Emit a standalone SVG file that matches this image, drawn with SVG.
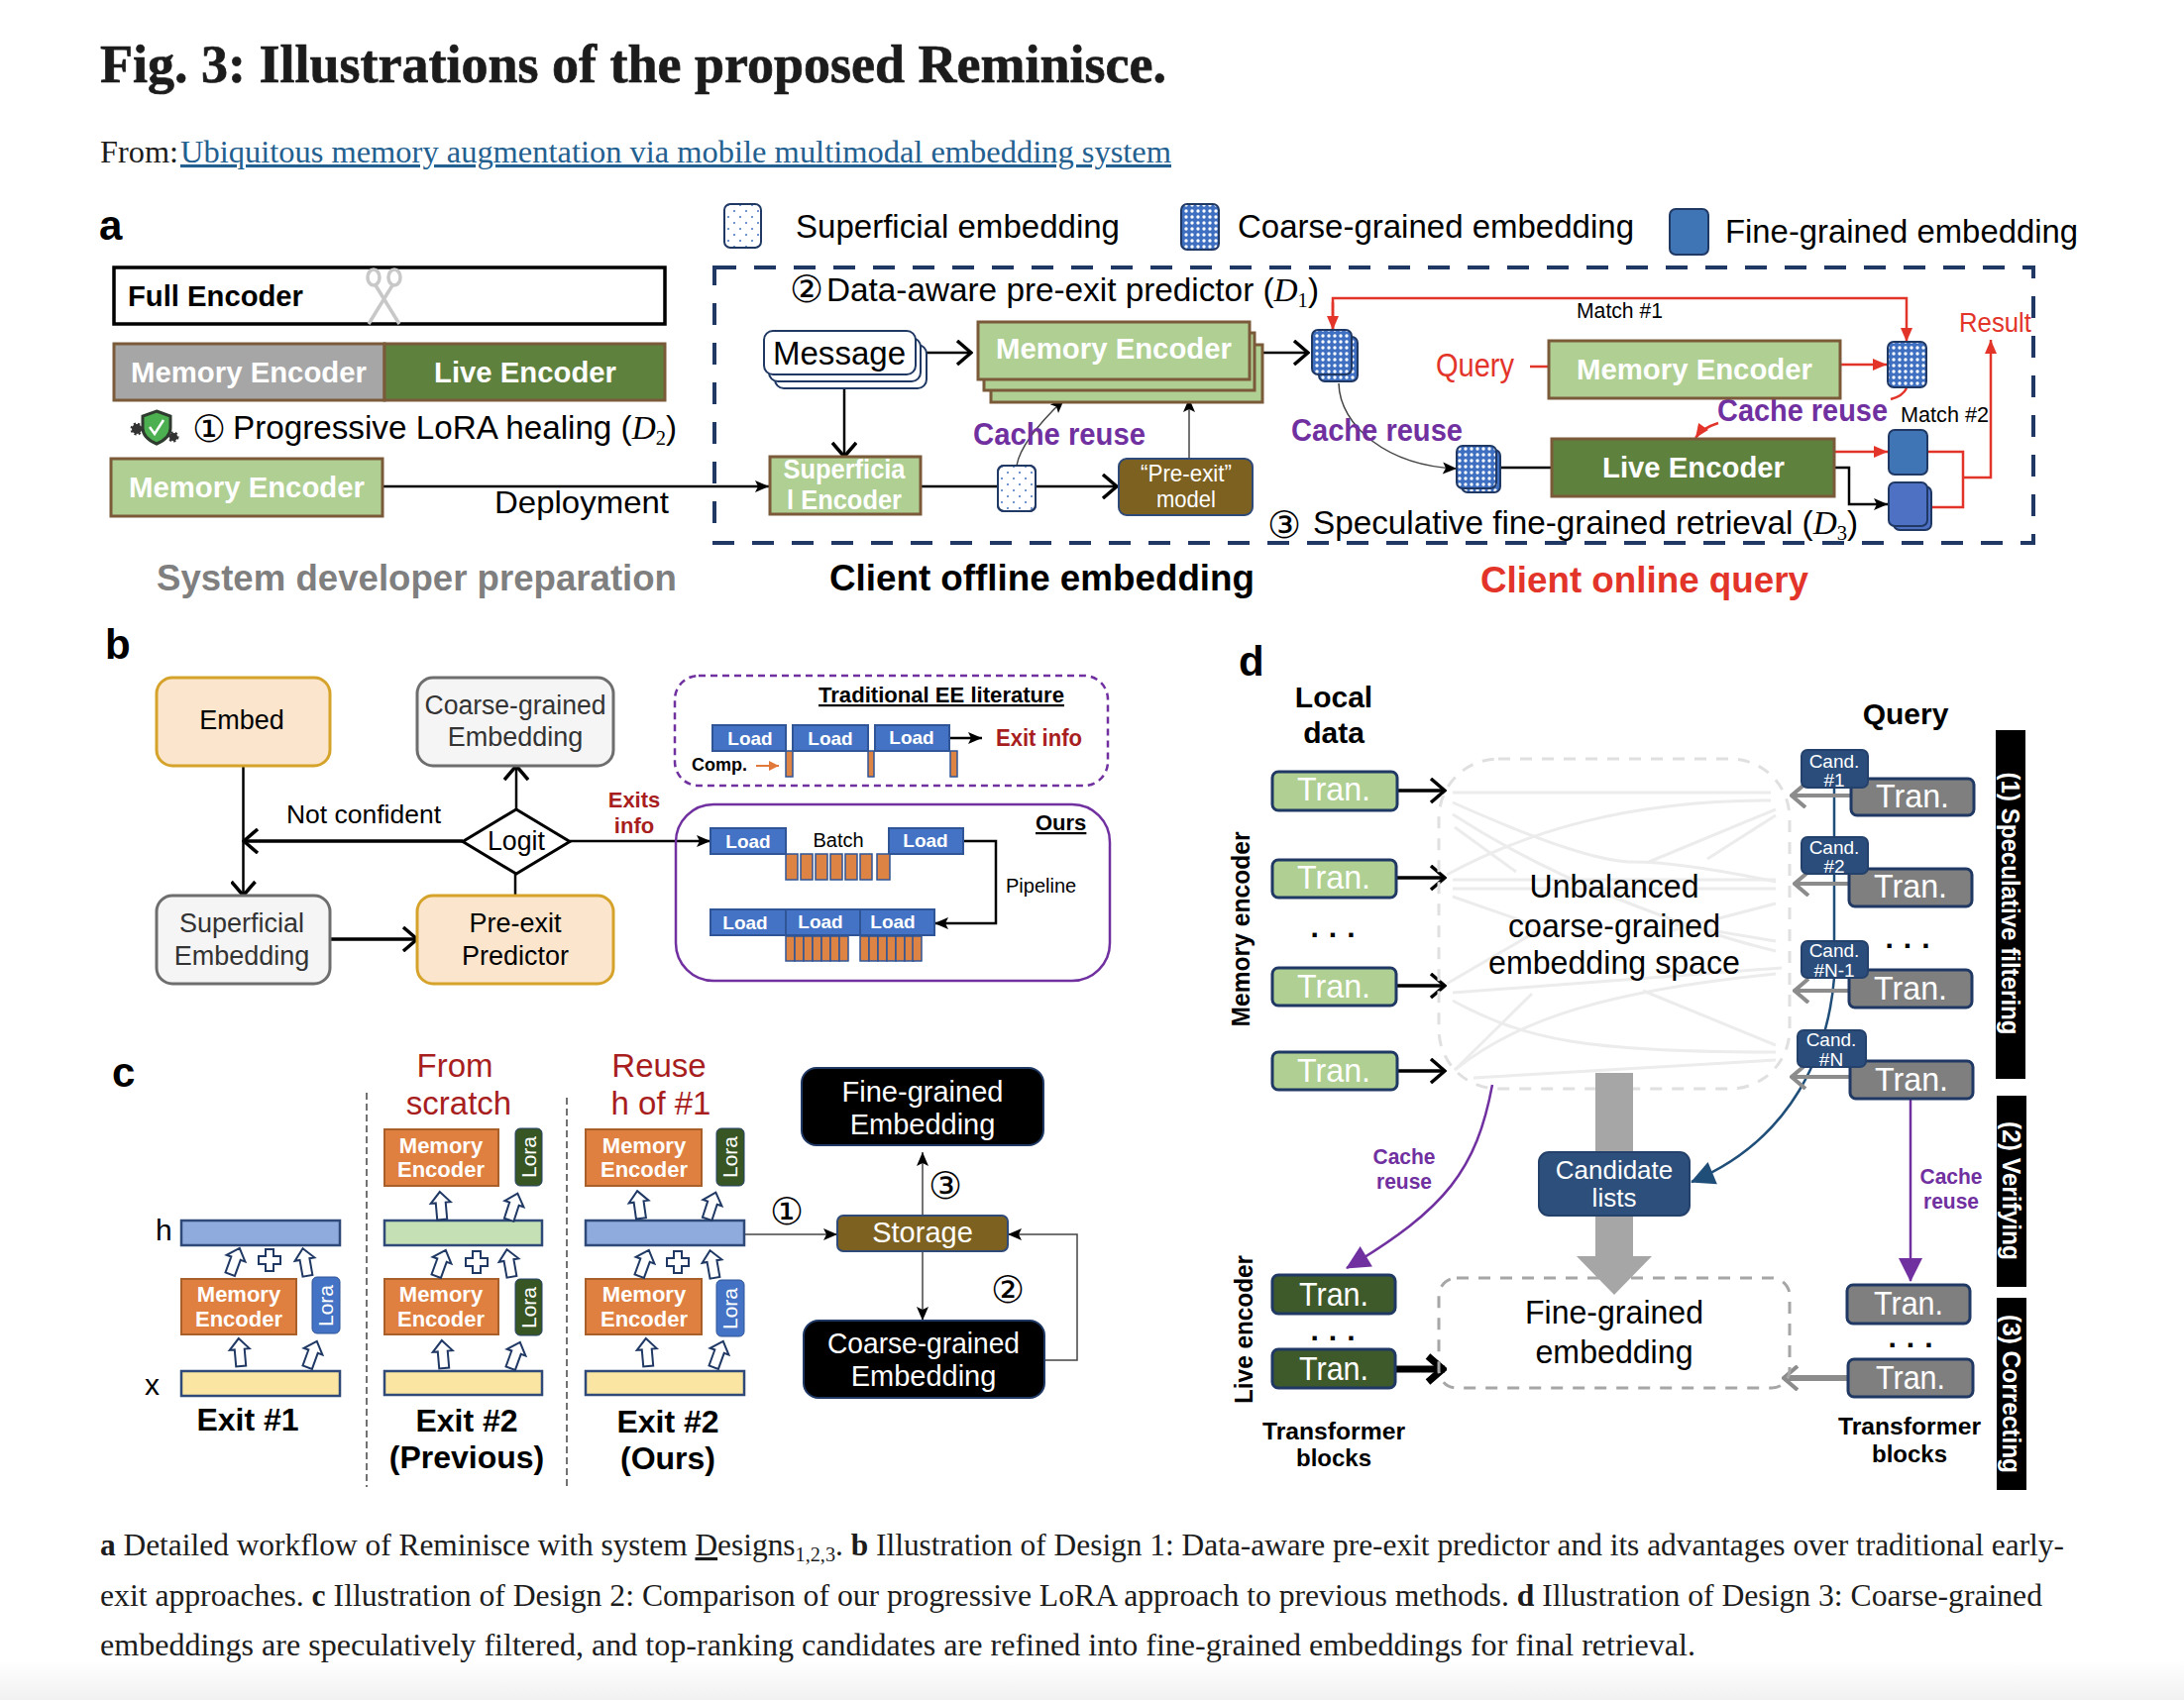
<svg xmlns="http://www.w3.org/2000/svg" width="2204" height="1716" viewBox="0 0 2204 1716">
<style>
text{font-family:"Liberation Sans",Arial,sans-serif;fill:#000}
.s{font-family:"Liberation Serif","Times New Roman",serif;fill:#1c1c1c}
.b{font-weight:700}
.w{fill:#fff}
.m{text-anchor:middle}
.circ{font-family:"DejaVu Sans",sans-serif;text-anchor:middle;font-size:38px}
.pur{fill:#7030a0;font-weight:700}
.red{fill:#e3342a}
.dred{fill:#a81e1e}
.lg{fill:#afcf93;stroke:#7b5a3a;stroke-width:3}
.dg{fill:#5f813e;stroke:#7b5a3a;stroke-width:3}
.wf{fill:none;stroke:#000;stroke-width:2.5}
.wf3{fill:none;stroke:#000;stroke-width:3.5}
.wf6{fill:none;stroke:#000;stroke-width:7}
.redl{fill:none;stroke:#e3342a;stroke-width:2.5}
.gl{fill:none;stroke:#8c8c8c;stroke-width:4}
.thin{fill:none;stroke:#444;stroke-width:1.5}
.load{fill:#4472c4;stroke:#2f5597;stroke-width:2}
.or{fill:#dd8344;stroke:#2f5597;stroke-width:1.5}
.nw{fill:#f5f5f5;stroke:#6e6e6e;stroke-width:3}
.nc{fill:#fbe5cd;stroke:#d6a32a;stroke-width:3}
.oe{fill:#e08040;stroke:#a85f2a;stroke-width:2}
.bar{stroke:#2f4a78;stroke-width:2.5}
.hol{fill:#fff;stroke:#1f3864;stroke-width:2}
.bk{fill:#000;stroke:#1f3864;stroke-width:2}
.lt{fill:#afcf93;stroke:#1f3864;stroke-width:3}
.gt{fill:#7f7f7f;stroke:#1f3864;stroke-width:3}
.dt{fill:#3f5a2a;stroke:#1f3864;stroke-width:3}
.cand{fill:#2a4d7c;stroke:#24416b;stroke-width:2}
.grid{fill:none;stroke:#ececec;stroke-width:3}
.tr{font-size:34px;fill:#fff;text-anchor:middle}
.cd{font-size:19px;fill:#fff;text-anchor:middle}
.emb{stroke:#1f3864;stroke-width:2}
.dots{font-size:30px;font-weight:700;text-anchor:middle;letter-spacing:10px}
</style>
<defs>
<linearGradient id="foot" x1="0" y1="0" x2="0" y2="1"><stop offset="0" stop-color="#fff"/><stop offset="1" stop-color="#f1f1f1"/></linearGradient>
<pattern id="pS" width="12" height="12" patternUnits="userSpaceOnUse"><circle cx="3" cy="3" r="1" fill="#4472c4"/><circle cx="9" cy="9" r="1" fill="#4472c4"/></pattern>
<pattern id="pC" width="6" height="6" patternUnits="userSpaceOnUse"><rect width="6" height="6" fill="#3f6fc0"/><circle cx="3" cy="3" r="1.700" fill="#fff"/></pattern>
<marker id="ak" markerUnits="userSpaceOnUse" markerWidth="16" markerHeight="16" refX="15" refY="8" orient="auto"><path d="M1,2 L15,8 L1,14 L4,8 Z" fill="#000"/></marker>
<marker id="ao" markerUnits="userSpaceOnUse" markerWidth="22" markerHeight="26" refX="20" refY="13" orient="auto"><path d="M6,1 L20,13 L6,25" fill="none" stroke="#000" stroke-width="3.500"/></marker>
<marker id="ao6" markerUnits="userSpaceOnUse" markerWidth="24" markerHeight="32" refX="22" refY="16" orient="auto"><path d="M5,3 L20,16 L5,29" fill="none" stroke="#000" stroke-width="7"/></marker>
<marker id="ag" markerUnits="userSpaceOnUse" markerWidth="22" markerHeight="26" refX="20" refY="13" orient="auto"><path d="M6,1 L20,13 L6,25" fill="none" stroke="#8c8c8c" stroke-width="4"/></marker>
<marker id="ar" markerUnits="userSpaceOnUse" markerWidth="16" markerHeight="16" refX="15" refY="8" orient="auto"><path d="M1,2 L15,8 L1,14 Z" fill="#e3342a"/></marker>
<marker id="ap" markerUnits="userSpaceOnUse" markerWidth="26" markerHeight="26" refX="24" refY="13" orient="auto"><path d="M1,1 L25,13 L1,25 Z" fill="#7030a0"/></marker>
<marker id="an" markerUnits="userSpaceOnUse" markerWidth="26" markerHeight="26" refX="24" refY="13" orient="auto"><path d="M1,1 L25,13 L1,25 Z" fill="#1f4e79"/></marker>
<marker id="aq" markerUnits="userSpaceOnUse" markerWidth="12" markerHeight="12" refX="11" refY="6" orient="auto"><path d="M1,1 L11,6 L1,11 Z" fill="#e0793a"/></marker>
<path id="ha" d="M0,-14 L10,-3 L5,-3 L5,14 L-5,14 L-5,-3 L-10,-3 Z" class="hol"/>
<path id="pl" d="M-4,-11 H4 V-4 H11 V4 H4 V11 H-4 V4 H-11 V-4 H-4 Z" class="hol"/>
</defs>
<rect width="2204" height="1716" fill="#fff"/>
<rect y="1676" width="2204" height="40" fill="url(#foot)"/>

<g id="header">
<text class="s b" x="101" y="83" font-size="55" textLength="1076" lengthAdjust="spacingAndGlyphs" style="stroke:#1c1c1c;stroke-width:.7">Fig. 3: Illustrations of the proposed Reminisce.</text>
<text class="s" x="101" y="164" font-size="31" textLength="79" lengthAdjust="spacingAndGlyphs">From:</text>
<text class="s" x="182" y="164" font-size="31" style="fill:#23608f;text-decoration:underline" textLength="1000" lengthAdjust="spacingAndGlyphs">Ubiquitous memory augmentation via mobile multimodal embedding system</text>
</g>

<g id="connectors">
<path d="M386,491 H776" class="wf" marker-end="url(#ak)"/>
<path d="M926,356 H980" class="wf" marker-end="url(#ao)"/>
<path d="M852,392 V461" class="wf" marker-end="url(#ao)"/>
<path d="M1274,356 H1320" class="wf" marker-end="url(#ao)"/>
<path d="M929,491 H1127" class="wf" marker-end="url(#ao)"/>
<path d="M1200,463 V402" class="thin" marker-end="url(#ak)"/>
<path d="M1026,470 Q1030,445 1074,403" class="thin" marker-end="url(#ak)"/>
<path d="M1345,333 V301 H1924 V345" class="redl" marker-end="url(#ar)"/>
<path d="M1345,305 V333" class="redl" marker-end="url(#ar)"/>
<path d="M1544,370 H1562" class="redl"/>
<path d="M1857,368 H1904" class="redl" marker-end="url(#ar)"/>
<path d="M1924,392 Q1920,400 1908,403" class="redl"/>
<path d="M1734,427 Q1718,432 1711,442" class="redl" marker-end="url(#ar)"/>
<path d="M1851,456 H1905" class="redl" marker-end="url(#ar)"/>
<path d="M1945,456 H1981 V512 H1949" class="redl"/>
<path d="M1981,482 H2009 V343" class="redl" marker-end="url(#ar)"/>
<path d="M1851,472 H1866 V509 H1905" class="wf" marker-end="url(#ak)"/>
<path d="M1512,472 H1566" class="wf"/>
<path d="M1351,387 C1352,430 1400,470 1470,473" class="thin" marker-end="url(#ak)"/>

<path d="M245.500,773 V904" class="wf" marker-end="url(#ao)"/>
<path d="M467,849 H246" class="wf3" marker-end="url(#ao)"/>
<path d="M333,948 H421" class="wf3" marker-end="url(#ao)"/>
<path d="M520,904 V882" class="wf"/>
<path d="M521,817 V773" class="wf" marker-end="url(#ao)"/>
<path d="M575,849 H717" class="wf" marker-end="url(#ak)"/>
<path d="M958,745 H991" class="wf" marker-end="url(#ak)"/>
<path d="M763,773 H786" fill="none" stroke="#e0793a" stroke-width="2" marker-end="url(#aq)"/>
<path d="M972,849 H1005 V932 H943" class="wf" marker-end="url(#ak)"/>

<path d="M751,1246 H845" class="thin" marker-end="url(#ak)"/>
<path d="M931,1227 V1163" class="thin" marker-end="url(#ak)"/>
<path d="M931,1263 V1333" class="thin" marker-end="url(#ak)"/>
<path d="M1054,1373 H1087 V1246 H1017" class="thin" marker-end="url(#ak)"/>
<path d="M370,1103 V1501 M572,1108 V1504" fill="none" stroke="#444" stroke-width="1.500" stroke-dasharray="7 4"/>

<g id="space-lines">
<path d="M1466,800 H1787" class="grid"/>
<path d="M1466,810 Q1600,870 1648,870 T1792,890" class="grid"/>
<path d="M1466,822 Q1540,870 1632,907 T1792,960" class="grid"/>
<path d="M1468,835 L1530,880" class="grid"/>
<path d="M1460,883 C1540,840 1640,808 1787,808" class="grid"/>
<path d="M1664,870 L1792,817 M1723,867 L1792,823" class="grid"/>
<path d="M1466,888 H1792 M1466,897 H1792" class="grid"/>
<path d="M1466,905 L1546,933 M1690,933 L1792,950 M1685,940 L1792,912" class="grid"/>
<path d="M1460,993 L1551,940" class="grid"/>
<path d="M1466,1002 L1798,977" class="grid"/>
<path d="M1466,1010 C1540,1050 1600,1062 1792,1062" class="grid"/>
<path d="M1658,1000 L1792,1055" class="grid"/>
<path d="M1468,1080 L1546,1003" class="grid"/>
<path d="M1468,1080 C1530,1030 1620,1000 1792,983" class="grid"/>
<path d="M1487,1088 L1792,1070" class="grid"/>
</g>
<path d="M1410,798 H1458" class="wf3" marker-end="url(#ao)"/>
<path d="M1410,886 H1458" class="wf3" marker-end="url(#ao)"/>
<path d="M1410,995 H1458" class="wf3" marker-end="url(#ao)"/>
<path d="M1410,1081 H1458" class="wf3" marker-end="url(#ao)"/>
<path d="M1408,1382 H1458" class="wf6" marker-end="url(#ao6)"/>
<path d="M1851,795 V987 C1845,1060 1810,1150 1707,1193" fill="none" stroke="#1f4e79" stroke-width="2.500" marker-end="url(#an)"/>
<path d="M1868,803 H1808" class="gl" marker-end="url(#ag)"/>
<path d="M1866,892 H1811" class="gl" marker-end="url(#ag)"/>
<path d="M1866,1000 H1811" class="gl" marker-end="url(#ag)"/>
<path d="M1867,1087 H1808" class="gl" marker-end="url(#ag)"/>
<path d="M1865,1391 H1800" class="gl" style="stroke-width:6" marker-end="url(#ag)"/>
<path d="M1506,1095 C1490,1180 1460,1220 1359,1280" fill="none" stroke="#7030a0" stroke-width="2.500" marker-end="url(#ap)"/>
<path d="M1928,1109 V1293" fill="none" stroke="#7030a0" stroke-width="2.500" marker-end="url(#ap)"/>
</g>

<g id="panel-a">
<text class="b" x="100" y="242" font-size="42">a</text>
<g id="legend-superficial"><rect x="731" y="206" width="37" height="44" rx="6" fill="url(#pS)" class="emb"/><text x="803" y="240" font-size="34" textLength="327" lengthAdjust="spacingAndGlyphs">Superficial embedding</text></g>
<g id="legend-coarse"><rect x="1192" y="206" width="38" height="46" rx="6" fill="url(#pC)" class="emb"/><text x="1249" y="240" font-size="34" textLength="400" lengthAdjust="spacingAndGlyphs">Coarse-grained embedding</text></g>
<g id="legend-fine"><rect x="1685" y="211" width="39" height="46" rx="6" fill="#3f74b5" class="emb"/><text x="1741" y="245" font-size="34" textLength="356" lengthAdjust="spacingAndGlyphs">Fine-grained embedding</text></g>

<g id="full-encoder"><rect x="115" y="270" width="556" height="57" fill="#fff" stroke="#000" stroke-width="3.500"/>
<text class="b" x="129" y="309" font-size="30" textLength="177" lengthAdjust="spacingAndGlyphs">Full Encoder</text>
<g fill="none" stroke="#c8c8c8" stroke-width="3.500"><ellipse cx="377" cy="280" rx="6" ry="8"/><ellipse cx="398" cy="280" rx="6" ry="8"/><path d="M379,288 L403,327 M396,288 L372,327"/></g></g>
<g id="split-encoder"><rect x="115" y="347" width="273" height="57" fill="#a6a6a6" stroke="#7b5a3a" stroke-width="3"/><rect x="388" y="347" width="283" height="57" class="dg"/>
<text class="b w" x="132" y="386" font-size="30" textLength="238" lengthAdjust="spacingAndGlyphs">Memory Encoder</text>
<text class="b w" x="438" y="386" font-size="30" textLength="184" lengthAdjust="spacingAndGlyphs">Live Encoder</text></g>
<g id="lora-healing">
<path d="M158,415 L172,420 V432 Q172,442 158,448 Q144,442 144,432 V420 Z" fill="#4caf50" stroke="#2f3b2f" stroke-width="3"/>
<path d="M151,431 L156,438 L165,424" fill="none" stroke="#fff" stroke-width="2.500"/>
<circle cx="138" cy="433" r="5" fill="#333" stroke="#333" stroke-width="3" stroke-dasharray="2 2"/>
<circle cx="175" cy="441" r="4" fill="#333" stroke="#333" stroke-width="3" stroke-dasharray="2 2"/>
<text class="circ" x="211" y="446">①</text>
<text x="235" y="443" font-size="34" textLength="448" lengthAdjust="spacingAndGlyphs">Progressive LoRA healing (<tspan class="s" font-style="italic" style="fill:#000">D</tspan><tspan class="s" font-size="21" dy="6" style="fill:#000">2</tspan><tspan dy="-6">)</tspan></text></g>
<g id="memory-encoder-dev"><rect x="112" y="463" width="274" height="58" class="lg"/><text class="b w" x="130" y="502" font-size="30" textLength="238" lengthAdjust="spacingAndGlyphs">Memory Encoder</text></g>
<text x="499" y="518" font-size="32" textLength="176" lengthAdjust="spacingAndGlyphs">Deployment</text>
<rect id="client-box" x="721" y="270" width="1331" height="278" fill="none" stroke="#1f3864" stroke-width="4" stroke-dasharray="22 18"/>
<text class="circ" x="814" y="305">②</text>
<text x="834" y="304" font-size="34" textLength="497" lengthAdjust="spacingAndGlyphs">Data-aware pre-exit predictor (<tspan class="s" font-style="italic" style="fill:#000">D</tspan><tspan class="s" font-size="21" dy="6" style="fill:#000">1</tspan><tspan dy="-6">)</tspan></text>
<g id="message"><g fill="#fff" stroke="#1f3864" stroke-width="2"><rect x="782" y="348" width="153" height="44" rx="9"/><rect x="776" y="341" width="153" height="44" rx="9"/><rect x="771" y="334" width="153" height="44" rx="9"/></g>
<text x="780" y="368" font-size="34" textLength="134" lengthAdjust="spacingAndGlyphs">Message</text></g>
<g id="memory-encoder-offline"><rect x="1000" y="348" width="274" height="58" class="lg"/><rect x="993" y="336" width="273" height="58" class="lg"/><rect x="987" y="325" width="274" height="58" class="lg"/>
<text class="b w" x="1005" y="362" font-size="30" textLength="238" lengthAdjust="spacingAndGlyphs">Memory Encoder</text></g>
<g id="coarse-stack-a"><rect x="1331" y="340" width="39" height="45" rx="6" fill="url(#pC)" class="emb"/><rect x="1324" y="333" width="40" height="45" rx="6" fill="url(#pC)" class="emb"/></g>
<g id="superficial-encoder"><rect x="777" y="461" width="152" height="58" class="lg"/>
<text class="b w m" x="852" y="483" font-size="27" textLength="123" lengthAdjust="spacingAndGlyphs">Superficia</text><text class="b w m" x="852" y="514" font-size="27" textLength="116" lengthAdjust="spacingAndGlyphs">l Encoder</text></g>
<rect id="superficial-chip" x="1007" y="470" width="38" height="46" rx="6" fill="#fff" class="emb"/><rect x="1007" y="470" width="38" height="46" rx="6" fill="url(#pS)" class="emb"/>
<g id="pre-exit-model"><rect x="1129" y="463" width="135" height="57" rx="8" fill="#7c6120" stroke="#2f4a78" stroke-width="2"/>
<text class="w m" x="1197" y="486" font-size="24" textLength="92" lengthAdjust="spacingAndGlyphs">“Pre-exit”</text><text class="w m" x="1197" y="512" font-size="24" textLength="60" lengthAdjust="spacingAndGlyphs">model</text></g>
<text class="pur" x="982" y="449" font-size="31" textLength="174" lengthAdjust="spacingAndGlyphs">Cache reuse</text>
<text class="pur" x="1303" y="445" font-size="31" textLength="173" lengthAdjust="spacingAndGlyphs">Cache reuse</text>
<text class="pur" x="1733" y="425" font-size="31" textLength="172" lengthAdjust="spacingAndGlyphs">Cache reuse</text>
<text x="1591" y="321" font-size="22" textLength="87" lengthAdjust="spacingAndGlyphs">Match #1</text>
<text x="1918" y="426" font-size="22" textLength="89" lengthAdjust="spacingAndGlyphs">Match #2</text>
<text class="red" x="1449" y="380" font-size="33" textLength="79" lengthAdjust="spacingAndGlyphs">Query</text>
<text class="red" x="1977" y="335" font-size="27" textLength="73" lengthAdjust="spacingAndGlyphs">Result</text>
<g id="memory-encoder-online"><rect x="1563" y="344" width="294" height="58" class="lg"/><text class="b w" x="1591" y="383" font-size="30" textLength="238" lengthAdjust="spacingAndGlyphs">Memory Encoder</text></g>
<rect id="coarse-query" x="1905" y="345" width="39" height="46" rx="6" fill="url(#pC)" class="emb"/>
<g id="live-encoder-online"><rect x="1566" y="443" width="285" height="58" class="dg"/><text class="b w" x="1617" y="482" font-size="30" textLength="184" lengthAdjust="spacingAndGlyphs">Live Encoder</text></g>
<g id="coarse-stack-b"><rect x="1475" y="454" width="39" height="43" rx="6" fill="url(#pC)" class="emb"/><rect x="1470" y="450" width="40" height="43" rx="6" fill="url(#pC)" class="emb"/></g>
<rect id="fine-top" x="1906" y="434" width="39" height="45" rx="6" fill="#3f74b5" class="emb"/>
<g id="fine-stack"><rect x="1911" y="491" width="38" height="44" rx="6" fill="#4f71c4" class="emb"/><rect x="1906" y="487" width="39" height="44" rx="6" fill="#4f71c4" class="emb"/></g>
<text class="circ" x="1296" y="543">③</text>
<text x="1325" y="539" font-size="34" textLength="550" lengthAdjust="spacingAndGlyphs">Speculative fine-grained retrieval (<tspan class="s" font-style="italic" style="fill:#000">D</tspan><tspan class="s" font-size="21" dy="6" style="fill:#000">3</tspan><tspan dy="-6">)</tspan></text>
<text class="b" x="158" y="596" font-size="37" textLength="525" lengthAdjust="spacingAndGlyphs" style="fill:#7f7f7f">System developer preparation</text>
<text class="b" x="837" y="596" font-size="37" textLength="429" lengthAdjust="spacingAndGlyphs">Client offline embedding</text>
<text class="b" x="1494" y="598" font-size="37" textLength="331" lengthAdjust="spacingAndGlyphs" style="fill:#e3342a">Client online query</text>
</g>

<g id="panel-b">
<text class="b" x="106" y="665" font-size="42">b</text>
<g id="embed"><rect x="158" y="684" width="175" height="89" rx="16" class="nc"/><text class="m" x="244" y="736" font-size="27">Embed</text></g>
<g id="coarse-node"><rect x="421" y="684" width="198" height="89" rx="16" class="nw"/><text class="m" x="520" y="721" font-size="27" textLength="183" lengthAdjust="spacingAndGlyphs" style="fill:#333">Coarse-grained</text><text class="m" x="520" y="753" font-size="27" style="fill:#333">Embedding</text></g>
<g id="superficial-node"><rect x="158" y="904" width="175" height="89" rx="16" class="nw"/><text class="m" x="244" y="941" font-size="27" style="fill:#333">Superficial</text><text class="m" x="244" y="974" font-size="27" style="fill:#333">Embedding</text></g>
<g id="pre-exit-predictor"><rect x="421" y="904" width="198" height="89" rx="16" class="nc"/><text class="m" x="520" y="941" font-size="27">Pre-exit</text><text class="m" x="520" y="974" font-size="27">Predictor</text></g>
<g id="logit"><path d="M521,817 L575,849.500 L521,882 L467,849.500 Z" fill="#fff" stroke="#000" stroke-width="3"/><text class="m" x="521" y="858" font-size="27" textLength="58" lengthAdjust="spacingAndGlyphs">Logit</text></g>
<text x="289" y="831" font-size="26" textLength="156" lengthAdjust="spacingAndGlyphs">Not confident</text>
<text class="b dred m" x="640" y="815" font-size="22">Exits</text><text class="b dred m" x="640" y="841" font-size="22">info</text>
<g id="traditional"><rect x="681" y="682" width="437" height="111" rx="24" fill="none" stroke="#7030a0" stroke-width="2.500" stroke-dasharray="7 5"/>
<text class="b" x="826" y="709" font-size="22" text-decoration="underline" textLength="248" lengthAdjust="spacingAndGlyphs">Traditional EE literature</text>
<rect x="719" y="732" width="74" height="26" class="load"/><rect x="800" y="732" width="76" height="26" class="load"/><rect x="883" y="732" width="75" height="26" class="load"/>
<text class="b w m" x="757" y="752" font-size="19">Load</text><text class="b w m" x="838" y="752" font-size="19">Load</text><text class="b w m" x="920" y="751" font-size="19">Load</text>
<rect x="793" y="758" width="7" height="26" class="or"/><rect x="876" y="758" width="6" height="26" class="or"/><rect x="959" y="758" width="7" height="26" class="or"/>
<text class="b dred" x="1005" y="753" font-size="23" textLength="87" lengthAdjust="spacingAndGlyphs">Exit info</text>
<text class="b" x="698" y="778" font-size="18">Comp.</text></g>
<g id="ours"><rect x="682" y="812" width="438" height="178" rx="38" fill="none" stroke="#7030a0" stroke-width="2.500"/>
<text class="b" x="1045" y="838" font-size="22" text-decoration="underline">Ours</text>
<rect x="717" y="836" width="76" height="26" class="load"/><rect x="897" y="836" width="75" height="26" class="load"/>
<text class="b w m" x="755" y="856" font-size="19">Load</text><text class="b w m" x="934" y="855" font-size="19">Load</text>
<text class="m" x="846" y="855" font-size="20">Batch</text>
<g class="or"><rect x="793" y="862" width="12" height="26"/><rect x="808" y="862" width="12" height="26"/><rect x="823" y="862" width="12" height="26"/><rect x="838" y="862" width="12" height="26"/><rect x="853" y="862" width="12" height="26"/><rect x="868" y="862" width="12" height="26"/><rect x="885" y="862" width="13" height="26"/></g>
<text x="1015" y="901" font-size="20">Pipeline</text>
<rect x="717" y="918" width="76" height="26" class="load"/><rect x="793" y="918" width="75" height="26" class="load"/><rect x="868" y="918" width="75" height="26" class="load"/>
<text class="b w m" x="752" y="938" font-size="19">Load</text><text class="b w m" x="828" y="937" font-size="19">Load</text><text class="b w m" x="901" y="937" font-size="19">Load</text>
<g class="or"><rect x="793" y="945" width="9" height="25"/><rect x="802" y="945" width="9" height="25"/><rect x="811" y="945" width="9" height="25"/><rect x="820" y="945" width="9" height="25"/><rect x="829" y="945" width="9" height="25"/><rect x="838" y="945" width="9" height="25"/><rect x="847" y="945" width="9" height="25"/>
<rect x="868" y="945" width="9" height="25"/><rect x="877" y="945" width="9" height="25"/><rect x="886" y="945" width="9" height="25"/><rect x="895" y="945" width="9" height="25"/><rect x="904" y="945" width="9" height="25"/><rect x="913" y="945" width="9" height="25"/><rect x="921" y="945" width="9" height="25"/></g></g>
</g>

<g id="panel-c">
<text class="b" x="113" y="1097" font-size="42">c</text>
<text class="dred m" x="459" y="1087" font-size="33">From</text><text class="dred m" x="463" y="1125" font-size="33">scratch</text>
<text class="dred m" x="665" y="1087" font-size="33">Reuse</text><text class="dred m" x="667" y="1125" font-size="33">h of #1</text>
<text x="157" y="1252" font-size="30" >h</text><text x="146" y="1408" font-size="30">x</text>
<g id="exit1">
<rect x="183" y="1232" width="160" height="25" fill="#8faadc" class="bar"/>
<rect x="183" y="1291" width="116" height="56" class="oe"/><text class="b w m" x="241" y="1314" font-size="22">Memory</text><text class="b w m" x="241" y="1339" font-size="22">Encoder</text>
<rect x="315" y="1289" width="28" height="57" rx="5" fill="#4472c4" stroke="#2f5597"/><text class="w m" transform="translate(336,1318) rotate(-90)" font-size="21">Lora</text>
<rect x="183" y="1384" width="160" height="25" fill="#fae6a2" class="bar"/>
<use href="#ha" transform="translate(242,1365) rotate(-5)"/><use href="#ha" transform="translate(315,1367) rotate(20)"/><use href="#ha" transform="translate(237,1273) rotate(20)"/><use href="#ha" transform="translate(308,1274) rotate(-10)"/><use href="#pl" x="272" y="1272"/>
<text class="b m" x="250" y="1444" font-size="32">Exit #1</text></g>
<g id="exit2-prev">
<rect x="388" y="1232" width="159" height="25" fill="#c5e0b4" class="bar"/>
<rect x="388" y="1140" width="115" height="57" class="oe"/><text class="b w m" x="445" y="1164" font-size="22">Memory</text><text class="b w m" x="445" y="1188" font-size="22">Encoder</text>
<rect x="520" y="1139" width="27" height="58" rx="5" fill="#375623" stroke="#24416b"/><text class="w m" transform="translate(541,1168) rotate(-90)" font-size="21">Lora</text>
<rect x="388" y="1291" width="115" height="56" class="oe"/><text class="b w m" x="445" y="1314" font-size="22">Memory</text><text class="b w m" x="445" y="1339" font-size="22">Encoder</text>
<rect x="520" y="1291" width="27" height="57" rx="5" fill="#375623" stroke="#24416b"/><text class="w m" transform="translate(541,1320) rotate(-90)" font-size="21">Lora</text>
<rect x="388" y="1384" width="159" height="24" fill="#fae6a2" class="bar"/>
<use href="#ha" transform="translate(447,1367) rotate(-5)"/><use href="#ha" transform="translate(520,1368) rotate(20)"/><use href="#ha" transform="translate(445,1275) rotate(20)"/><use href="#ha" transform="translate(514,1275) rotate(-10)"/><use href="#pl" x="481" y="1274"/><use href="#ha" transform="translate(445,1217) rotate(-5)"/><use href="#ha" transform="translate(518,1218) rotate(18)"/>
<text class="b m" x="471" y="1445" font-size="32">Exit #2</text><text class="b m" x="471" y="1482" font-size="32">(Previous)</text></g>
<g id="exit2-ours">
<rect x="591" y="1232" width="160" height="25" fill="#8faadc" class="bar"/>
<rect x="591" y="1140" width="117" height="57" class="oe"/><text class="b w m" x="650" y="1164" font-size="22">Memory</text><text class="b w m" x="650" y="1188" font-size="22">Encoder</text>
<rect x="723" y="1139" width="28" height="58" rx="5" fill="#375623" stroke="#24416b"/><text class="w m" transform="translate(744,1168) rotate(-90)" font-size="21">Lora</text>
<rect x="591" y="1291" width="117" height="56" class="oe"/><text class="b w m" x="650" y="1314" font-size="22">Memory</text><text class="b w m" x="650" y="1339" font-size="22">Encoder</text>
<rect x="723" y="1292" width="28" height="57" rx="5" fill="#4472c4" stroke="#2f5597"/><text class="w m" transform="translate(744,1321) rotate(-90)" font-size="21">Lora</text>
<rect x="591" y="1384" width="160" height="24" fill="#fae6a2" class="bar"/>
<use href="#ha" transform="translate(653,1365) rotate(-5)"/><use href="#ha" transform="translate(725,1367) rotate(20)"/><use href="#ha" transform="translate(650,1275) rotate(20)"/><use href="#ha" transform="translate(719,1276) rotate(-10)"/><use href="#pl" x="684" y="1274"/><use href="#ha" transform="translate(645,1216) rotate(-8)"/><use href="#ha" transform="translate(718,1217) rotate(18)"/>
<text class="b m" x="674" y="1446" font-size="32">Exit #2</text><text class="b m" x="674" y="1483" font-size="32">(Ours)</text></g>
<g id="storage"><rect x="845" y="1227" width="172" height="36" rx="6" fill="#7c6120" stroke="#2f4a78" stroke-width="2"/><text class="w m" x="931" y="1254" font-size="29">Storage</text></g>
<g id="fine-node"><rect x="809" y="1078" width="244" height="78" rx="15" class="bk"/><text class="w m" x="931" y="1112" font-size="29">Fine-grained</text><text class="w m" x="931" y="1145" font-size="29">Embedding</text></g>
<g id="coarse-black"><rect x="811" y="1333" width="243" height="78" rx="15" class="bk"/><text class="w m" x="932" y="1366" font-size="29" textLength="194" lengthAdjust="spacingAndGlyphs">Coarse-grained</text><text class="w m" x="932" y="1399" font-size="29">Embedding</text></g>
<text class="circ" x="794" y="1236">①</text><text class="circ" x="1017" y="1315">②</text><text class="circ" x="954" y="1210">③</text>
</g>

<g id="panel-d">
<text class="b" x="1250" y="682" font-size="42">d</text>
<text class="b m" x="1346" y="714" font-size="30">Local</text><text class="b m" x="1346" y="750" font-size="30">data</text>
<text class="b m" x="1923" y="731" font-size="30">Query</text>
<text class="b m" transform="translate(1261,938) rotate(-90)" font-size="25" textLength="197" lengthAdjust="spacingAndGlyphs">Memory encoder</text>
<text class="b m" transform="translate(1264,1342) rotate(-90)" font-size="25" textLength="150" lengthAdjust="spacingAndGlyphs">Live encoder</text>
<rect id="space-box" x="1452" y="766" width="354" height="333" rx="60" fill="none" stroke="#e0e0e0" stroke-width="3" stroke-dasharray="12 10"/>
<g id="space-label"><text class="m" x="1629" y="906" font-size="33" textLength="171" lengthAdjust="spacingAndGlyphs">Unbalanced</text><text class="m" x="1629" y="946" font-size="33" textLength="214" lengthAdjust="spacingAndGlyphs">coarse-grained</text><text class="m" x="1629" y="983" font-size="33" textLength="254" lengthAdjust="spacingAndGlyphs">embedding space</text></g>
<g id="tran-mem-1"><rect x="1284" y="779" width="126" height="39" rx="6" class="lt"/><text class="tr" x="1346" y="808" textLength="74" lengthAdjust="spacingAndGlyphs">Tran.</text></g>
<g id="tran-mem-2"><rect x="1284" y="868" width="125" height="38" rx="6" class="lt"/><text class="tr" x="1346" y="897" textLength="74" lengthAdjust="spacingAndGlyphs">Tran.</text></g>
<g id="tran-mem-3"><rect x="1284" y="977" width="125" height="38" rx="6" class="lt"/><text class="tr" x="1346" y="1007" textLength="74" lengthAdjust="spacingAndGlyphs">Tran.</text></g>
<g id="tran-mem-4"><rect x="1284" y="1062" width="126" height="38" rx="6" class="lt"/><text class="tr" x="1346" y="1092" textLength="74" lengthAdjust="spacingAndGlyphs">Tran.</text></g>
<text class="dots" x="1350" y="946">...</text>
<g id="tran-q-1"><rect x="1868" y="786" width="124" height="37" rx="6" class="gt"/><text class="tr" x="1930" y="815" textLength="74" lengthAdjust="spacingAndGlyphs">Tran.</text></g>
<g id="tran-q-2"><rect x="1866" y="877" width="124" height="38" rx="6" class="gt"/><text class="tr" x="1928" y="906" textLength="74" lengthAdjust="spacingAndGlyphs">Tran.</text></g>
<g id="tran-q-3"><rect x="1866" y="979" width="124" height="38" rx="6" class="gt"/><text class="tr" x="1928" y="1009" textLength="74" lengthAdjust="spacingAndGlyphs">Tran.</text></g>
<g id="tran-q-4"><rect x="1867" y="1071" width="124" height="38" rx="6" class="gt"/><text class="tr" x="1929" y="1101" textLength="74" lengthAdjust="spacingAndGlyphs">Tran.</text></g>
<text class="dots" x="1930" y="957">...</text>
<g id="cand-1"><rect x="1818" y="757" width="67" height="38" rx="6" class="cand"/><text class="cd" x="1851" y="775">Cand.</text><text class="cd" x="1851" y="794">#1</text></g>
<g id="cand-2"><rect x="1818" y="845" width="67" height="37" rx="6" class="cand"/><text class="cd" x="1851" y="862">Cand.</text><text class="cd" x="1851" y="881">#2</text></g>
<g id="cand-3"><rect x="1818" y="950" width="67" height="37" rx="6" class="cand"/><text class="cd" x="1851" y="966">Cand.</text><text class="cd" x="1851" y="986">#N-1</text></g>
<g id="cand-4"><rect x="1814" y="1040" width="69" height="37" rx="6" class="cand"/><text class="cd" x="1848" y="1056">Cand.</text><text class="cd" x="1848" y="1076">#N</text></g>
<path id="big-arrow" d="M1610,1083 H1648 V1268 H1667 L1629,1307 L1591,1268 H1610 Z" fill="#a6a6a6"/>
<g id="candidate-lists"><rect x="1553" y="1163" width="152" height="64" rx="10" fill="#2c4f7c" stroke="#24416b" stroke-width="2"/><text class="w m" x="1629" y="1190" font-size="26">Candidate</text><text class="w m" x="1629" y="1218" font-size="26">lists</text></g>
<g id="fine-box"><rect x="1452" y="1290" width="354" height="111" rx="18" fill="none" stroke="#a6a6a6" stroke-width="3" stroke-dasharray="12 10"/><text class="m" x="1629" y="1336" font-size="33" textLength="180" lengthAdjust="spacingAndGlyphs">Fine-grained</text><text class="m" x="1629" y="1376" font-size="33" textLength="159" lengthAdjust="spacingAndGlyphs">embedding</text></g>
<g id="tran-live-1"><rect x="1284" y="1287" width="124" height="39" rx="6" class="dt"/><text class="tr" x="1346" y="1318" textLength="70" lengthAdjust="spacingAndGlyphs">Tran.</text></g>
<text class="dots" x="1350" y="1353">...</text>
<g id="tran-live-2"><rect x="1284" y="1362" width="124" height="39" rx="6" class="dt"/><text class="tr" x="1346" y="1393" textLength="70" lengthAdjust="spacingAndGlyphs">Tran.</text></g>
<g id="tran-r-1"><rect x="1864" y="1297" width="124" height="39" rx="6" class="gt"/><text class="tr" x="1926" y="1327" textLength="70" lengthAdjust="spacingAndGlyphs">Tran.</text></g>
<text class="dots" x="1933" y="1360">...</text>
<g id="tran-r-2"><rect x="1865" y="1372" width="126" height="38" rx="6" class="gt"/><text class="tr" x="1928" y="1402" textLength="70" lengthAdjust="spacingAndGlyphs">Tran.</text></g>
<text class="pur m" x="1417" y="1175" font-size="22" textLength="63" lengthAdjust="spacingAndGlyphs">Cache</text><text class="pur m" x="1417" y="1200" font-size="22" textLength="56" lengthAdjust="spacingAndGlyphs">reuse</text>
<text class="pur m" x="1969" y="1195" font-size="22" textLength="63" lengthAdjust="spacingAndGlyphs">Cache</text><text class="pur m" x="1969" y="1220" font-size="22" textLength="56" lengthAdjust="spacingAndGlyphs">reuse</text>
<text class="b m" x="1346" y="1453" font-size="24" textLength="144" lengthAdjust="spacingAndGlyphs">Transformer</text><text class="b m" x="1346" y="1480" font-size="24">blocks</text>
<text class="b m" x="1927" y="1448" font-size="24" textLength="144" lengthAdjust="spacingAndGlyphs">Transformer</text><text class="b m" x="1927" y="1476" font-size="24">blocks</text>
<g id="stage-1"><rect x="2014" y="737" width="30" height="352"/><text class="b w m" transform="translate(2020,912) rotate(90)" font-size="25" textLength="265" lengthAdjust="spacingAndGlyphs">(1) Speculative filtering</text></g>
<g id="stage-2"><rect x="2015" y="1106" width="30" height="193"/><text class="b w m" transform="translate(2021,1202) rotate(90)" font-size="25" textLength="140" lengthAdjust="spacingAndGlyphs">(2) Verifying</text></g>
<g id="stage-3"><rect x="2015" y="1310" width="30" height="194"/><text class="b w m" transform="translate(2021,1407) rotate(90)" font-size="25" textLength="160" lengthAdjust="spacingAndGlyphs">(3) Correcting</text></g>
</g>

<g id="caption">
<text class="s" x="101" y="1570" font-size="31" textLength="1982" lengthAdjust="spacingAndGlyphs"><tspan class="b">a</tspan> Detailed workflow of Reminisce with system <tspan text-decoration="underline">D</tspan>esigns<tspan font-size="20" dy="6">1,2,3</tspan><tspan dy="-6">. </tspan><tspan class="b">b</tspan> Illustration of Design 1: Data-aware pre-exit predictor and its advantages over traditional early-</text>
<text class="s" x="101" y="1621" font-size="31" textLength="1960" lengthAdjust="spacingAndGlyphs">exit approaches. <tspan class="b">c</tspan> Illustration of Design 2: Comparison of our progressive LoRA approach to previous methods. <tspan class="b">d</tspan> Illustration of Design 3: Coarse-grained</text>
<text class="s" x="101" y="1671" font-size="31" textLength="1610" lengthAdjust="spacingAndGlyphs">embeddings are speculatively filtered, and top-ranking candidates are refined into fine-grained embeddings for final retrieval.</text>
</g>
</svg>
